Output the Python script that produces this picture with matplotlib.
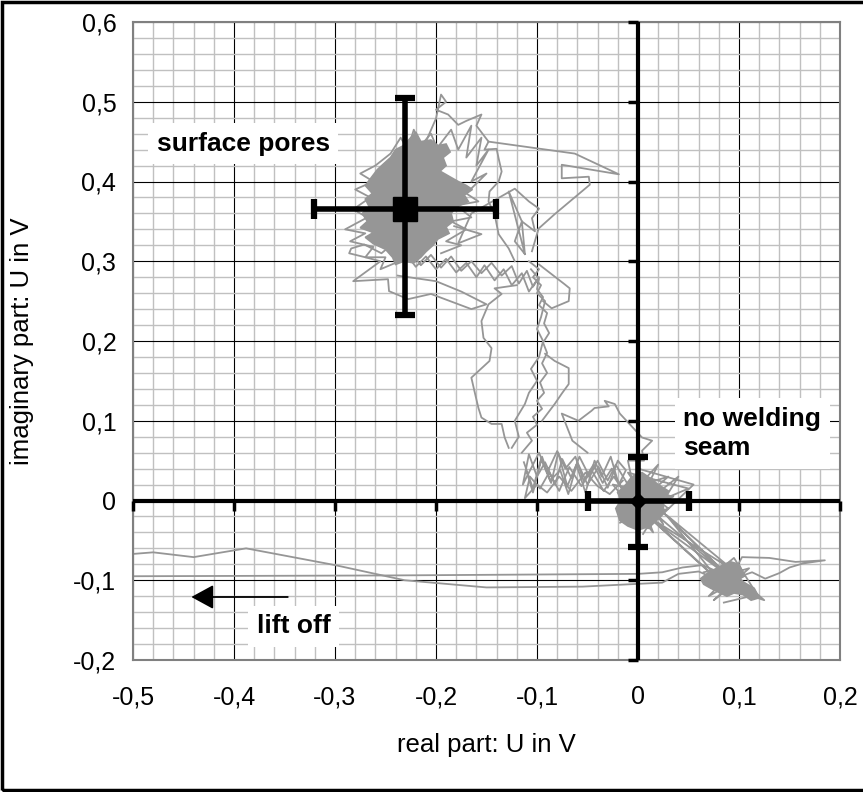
import matplotlib
matplotlib.use("Agg")
import matplotlib.pyplot as plt
from matplotlib.patches import Rectangle

plt.rcParams["font.family"] = ["Liberation Sans", "DejaVu Sans"]

# axis ticks and labels
xticks = [-0.5, -0.4, -0.3, -0.2, -0.1, 0.0, 0.1, 0.2]
xtick_labels = ["-0,5", "-0,4", "-0,3", "-0,2", "-0,1", "0", "0,1", "0,2"]
yticks = [-0.2, -0.1, 0.0, 0.1, 0.2, 0.3, 0.4, 0.5, 0.6]
ytick_labels = ["-0,2", "-0,1", "0", "0,1", "0,2", "0,3", "0,4", "0,5", "0,6"]

# mean points with error bars
pores_xy = (-0.231, 0.365)
pores_xerr = 0.09
pores_yerr = (0.133, 0.14)
seam_xy = (0.0, 0.0)
seam_xerr = 0.05
seam_yerr = (0.058, 0.055)

# dense clusters (envelopes of the signal trace)
pores_blob_x = [-0.225, -0.22, -0.215, -0.205, -0.198, -0.19, -0.186, -0.193, -0.19, -0.196,
                -0.185, -0.178, -0.17, -0.164, -0.172, -0.168, -0.18, -0.185, -0.183, -0.19,
                -0.187, -0.198, -0.203, -0.21, -0.215, -0.222, -0.232, -0.24, -0.243, -0.25,
                -0.262, -0.27, -0.262, -0.275, -0.268, -0.273, -0.266, -0.27, -0.263, -0.27,
                -0.264, -0.258, -0.252, -0.245, -0.24, -0.232]
pores_blob_y = [0.455, 0.462, 0.45, 0.452, 0.445, 0.447, 0.437, 0.43, 0.42, 0.413,
                0.405, 0.4, 0.395, 0.39, 0.383, 0.375, 0.368, 0.36, 0.35, 0.343,
                0.335, 0.328, 0.32, 0.312, 0.305, 0.298, 0.3, 0.296, 0.305, 0.315,
                0.322, 0.33, 0.336, 0.342, 0.35, 0.36, 0.368, 0.378, 0.385, 0.395,
                0.405, 0.415, 0.422, 0.43, 0.44, 0.445]
seam_blob_x = [-0.02, -0.012, -0.006, 0.004, 0.012, 0.02, 0.03, 0.024, 0.026, 0.018,
               0.01, 0.0, -0.01, -0.018, -0.022, -0.017]
seam_blob_y = [0.01, 0.02, 0.03, 0.035, 0.028, 0.02, 0.012, 0.0, -0.015, -0.025,
               -0.033, -0.037, -0.032, -0.025, -0.01, 0.0]
offset_blob_x = [0.062, 0.07, 0.078, 0.085, 0.092, 0.1, 0.104, 0.1, 0.108, 0.115,
                 0.12, 0.112, 0.104, 0.095, 0.088, 0.08, 0.072, 0.065]
offset_blob_y = [-0.098, -0.09, -0.085, -0.08, -0.077, -0.08, -0.09, -0.1, -0.105, -0.11,
                 -0.122, -0.125, -0.118, -0.116, -0.12, -0.115, -0.11, -0.105]

# trace segments
liftoff_upper_x = [-0.51, -0.25, 0.0, 0.024, 0.044, 0.064, 0.08]
liftoff_upper_y = [-0.095, -0.094, -0.092, -0.09, -0.084, -0.081, -0.09]
liftoff_lower_x = [-0.51, -0.48, -0.44, -0.388, -0.30, -0.231, -0.15, -0.055, 0.024, 0.04, 0.06, 0.08]
liftoff_lower_y = [-0.068, -0.065, -0.071, -0.06, -0.081, -0.1, -0.109, -0.108, -0.103, -0.092, -0.089, -0.1]
right_loop_x = [0.095, 0.103, 0.13, 0.156, 0.185, 0.163, 0.15, 0.14, 0.126, 0.113, 0.09]
right_loop_y = [-0.09, -0.071, -0.072, -0.077, -0.075, -0.079, -0.084, -0.091, -0.098, -0.09, -0.1]
jumps_x = [0.02, 0.085, 0.025, 0.09, 0.015, 0.08, 0.028, 0.095, 0.01, 0.075]
jumps_y = [-0.02, -0.09, -0.015, -0.095, -0.025, -0.1, -0.018, -0.088, -0.02, -0.095]
seam_spikes_x = [-0.02, 0.03, -0.015, 0.05, -0.01, 0.025, 0.0, 0.055, 0.01, -0.02, 0.02,
                 -0.01, 0.03, -0.005, 0.015, -0.025, 0.035, -0.018, 0.04, 0.005]
seam_spikes_y = [0.01, 0.03, -0.02, 0.015, 0.035, -0.03, 0.04, 0.02, -0.035, -0.01, 0.045,
                 -0.03, -0.01, 0.025, -0.04, 0.02, 0.005, -0.028, 0.03, -0.042]
offset_spikes_x = [0.065, 0.1, 0.07, 0.105, 0.08, 0.125, 0.09, 0.075, 0.11, 0.068, 0.095, 0.118, 0.085]
offset_spikes_y = [-0.09, -0.08, -0.12, -0.095, -0.075, -0.125, -0.11, -0.125, -0.085, -0.1, -0.072, -0.118, -0.128]
up_branch_x = [-0.005, -0.01, 0.006, 0.004, 0.014, 0.004, -0.018, -0.023, -0.033, -0.029,
               -0.043, -0.046, -0.059, -0.0755, -0.065, -0.05]
up_branch_y = [0.02, 0.05, 0.05, 0.0625, 0.075, 0.079, 0.109, 0.121, 0.125, 0.118,
               0.116, 0.1125, 0.1, 0.109, 0.075, 0.06]
mid_band_x = [-0.01, -0.022, -0.03, -0.04, -0.048, -0.058, -0.066, -0.075, -0.082, -0.092,
              -0.1, -0.108, -0.114, -0.106, -0.098, -0.09, -0.08, -0.072, -0.062, -0.054,
              -0.044, -0.035, -0.026, -0.016, -0.024, -0.034, -0.046, -0.056, -0.068, -0.078,
              -0.088, -0.097, -0.107, -0.112, -0.1, -0.09, -0.078, -0.066, -0.052, -0.04,
              -0.028, -0.015]
mid_band_y = [0.02, 0.045, 0.025, 0.05, 0.03, 0.055, 0.028, 0.052, 0.02, 0.048,
              0.03, 0.058, 0.02, 0.04, 0.06, 0.035, 0.062, 0.04, 0.055, 0.025,
              0.045, 0.022, 0.04, 0.015, 0.03, 0.012, 0.038, 0.018, 0.042, 0.012,
              0.035, 0.015, 0.03, 0.003, 0.02, 0.01, 0.03, 0.012, 0.035, 0.018,
              0.008, 0.025]
mid_band2_x = [-0.113, -0.104, -0.096, -0.086, -0.079, -0.07, -0.061, -0.052, -0.043, -0.036,
               -0.027, -0.019, -0.012, -0.02, -0.03, -0.039, -0.05, -0.06, -0.069, -0.077,
               -0.087, -0.095, -0.104, -0.11]
mid_band2_y = [0.048, 0.015, 0.052, 0.022, 0.06, 0.018, 0.045, 0.01, 0.05, 0.03,
               0.055, 0.02, 0.038, 0.05, 0.016, 0.042, 0.02, 0.048, 0.008, 0.038,
               0.025, 0.055, 0.01, 0.035]
spine1_x = [-0.115, -0.105, -0.11, -0.1, -0.104, -0.095, -0.1, -0.093, -0.097, -0.09, -0.095,
            -0.09, -0.094, -0.088, -0.093, -0.09, -0.098, -0.094, -0.1, -0.098, -0.106]
spine1_y = [0.06, 0.075, 0.085, 0.095, 0.105, 0.115, 0.125, 0.135, 0.148, 0.16, 0.172,
            0.185, 0.198, 0.21, 0.222, 0.235, 0.245, 0.255, 0.265, 0.278, 0.29]
spine2_x = [-0.125, -0.118, -0.122, -0.112, -0.108, -0.1, -0.106, -0.098, -0.094, -0.1,
            -0.096, -0.092, -0.1, -0.096, -0.104, -0.098, -0.108]
spine2_y = [0.066, 0.08, 0.1, 0.121, 0.135, 0.15, 0.165, 0.18, 0.2, 0.215,
            0.23, 0.25, 0.26, 0.27, 0.28, 0.29, 0.3]
left_loop_x = [-0.128, -0.132, -0.135, -0.145, -0.155, -0.158, -0.162, -0.165, -0.147, -0.145,
               -0.153, -0.155, -0.148, -0.135, -0.142, -0.12]
left_loop_y = [0.066, 0.079, 0.096, 0.096, 0.104, 0.116, 0.1375, 0.154, 0.175, 0.191,
               0.204, 0.225, 0.246, 0.259, 0.266, 0.27]
right_low_x = [-0.095, -0.0825, -0.0755, -0.0686, -0.0686, -0.0825, -0.092]
right_low_y = [0.1, 0.121, 0.134, 0.146, 0.166, 0.175, 0.184]
right_high_x = [-0.098, -0.0725, -0.0676, -0.0686, -0.0855, -0.094]
right_high_y = [0.296, 0.271, 0.266, 0.25, 0.241, 0.25]
band_x = [-0.235, -0.225, -0.215, -0.205, -0.195, -0.185, -0.175, -0.165, -0.155, -0.145,
          -0.135, -0.125, -0.118, -0.11, -0.104, -0.098, -0.108, -0.115, -0.125, -0.133,
          -0.142, -0.152, -0.16, -0.17, -0.18, -0.19, -0.2, -0.21, -0.22, -0.23]
band_y = [0.3, 0.312, 0.295, 0.308, 0.292, 0.306, 0.288, 0.3, 0.285, 0.298,
          0.282, 0.294, 0.272, 0.288, 0.268, 0.28, 0.262, 0.285, 0.27, 0.29,
          0.276, 0.295, 0.28, 0.298, 0.286, 0.303, 0.29, 0.306, 0.293, 0.31]
tail_x = [-0.235, -0.254, -0.271, -0.284, -0.286, -0.27, -0.255, -0.282, -0.2475, -0.2465,
          -0.2276, -0.205, -0.165, -0.15, -0.175, -0.2, -0.238]
tail_y = [0.33, 0.31, 0.321, 0.316, 0.31, 0.305, 0.3, 0.275, 0.2775, 0.2625,
          0.2525, 0.259, 0.24, 0.246, 0.262, 0.275, 0.282]
upper_x = [-0.21, -0.2, -0.195, -0.19, -0.2, -0.188, -0.178, -0.17, -0.155, -0.16, -0.148,
           -0.152, -0.14, -0.138, -0.135, -0.138, -0.147, -0.148, -0.142, -0.138, -0.128, -0.122]
upper_y = [0.45, 0.479, 0.509, 0.5, 0.49, 0.484, 0.471, 0.476, 0.484, 0.47, 0.45,
           0.44, 0.441, 0.429, 0.4125, 0.4, 0.3875, 0.375, 0.359, 0.334, 0.316, 0.3]
loop_x = [-0.148, -0.0626, -0.0189, -0.0755, -0.0755, -0.0487, -0.0477, -0.0825, -0.0984, -0.105]
loop_y = [0.45, 0.435, 0.409, 0.421, 0.404, 0.406, 0.396, 0.359, 0.341, 0.3125]
web_x = [-0.182, -0.155, -0.178, -0.165, -0.122, -0.108, -0.098, -0.105, -0.102, -0.115,
         -0.112, -0.128, -0.115, -0.122, -0.112]
web_y = [0.344, 0.334, 0.3225, 0.36, 0.391, 0.375, 0.366, 0.354, 0.3375, 0.35,
         0.309, 0.3875, 0.35, 0.325, 0.309]
pores_web_x = [-0.2, -0.185, -0.178, -0.165, -0.17, -0.155, -0.16, -0.148, -0.165, -0.15,
               -0.17, -0.158, -0.18, -0.165, -0.185, -0.17, -0.19, -0.175, -0.195]
pores_web_y = [0.44, 0.465, 0.44, 0.47, 0.43, 0.455, 0.42, 0.44, 0.4, 0.41,
               0.385, 0.375, 0.37, 0.355, 0.35, 0.34, 0.325, 0.32, 0.31]
pores_fuzz_x = [-0.2, -0.205, -0.215, -0.222, -0.228, -0.235, -0.245, -0.26, -0.275, -0.262,
                -0.28, -0.265, -0.282, -0.268, -0.29, -0.27, -0.285, -0.262, -0.27, -0.25,
                -0.255, -0.24]
pores_fuzz_y = [0.445, 0.46, 0.445, 0.465, 0.44, 0.455, 0.435, 0.42, 0.41, 0.4,
                0.39, 0.38, 0.365, 0.355, 0.34, 0.335, 0.325, 0.318, 0.305, 0.305,
                0.29, 0.298]

segments = [
    (liftoff_upper_x, liftoff_upper_y), (liftoff_lower_x, liftoff_lower_y),
    (right_loop_x, right_loop_y), (jumps_x, jumps_y),
    (seam_spikes_x, seam_spikes_y), (offset_spikes_x, offset_spikes_y),
    (up_branch_x, up_branch_y), (mid_band_x, mid_band_y), (mid_band2_x, mid_band2_y),
    (spine1_x, spine1_y), (spine2_x, spine2_y), (left_loop_x, left_loop_y),
    (right_low_x, right_low_y), (right_high_x, right_high_y),
    (band_x, band_y), (tail_x, tail_y), (upper_x, upper_y),
    (loop_x, loop_y), (web_x, web_y), (pores_web_x, pores_web_y),
    (pores_fuzz_x, pores_fuzz_y),
]
blobs = [
    (pores_blob_x, pores_blob_y), (seam_blob_x, seam_blob_y),
    (offset_blob_x, offset_blob_y),
]

trace_color = "#969696"

fig = plt.figure(figsize=(8.63, 7.92), dpi=100)
ax = fig.add_axes([133 / 863, 132 / 792, 707 / 863, 638 / 792])

ax.set_xlim(-0.5, 0.2)
ax.set_ylim(-0.2, 0.6)

ax.set_xticks(xticks)
ax.set_xticklabels(xtick_labels)
ax.set_yticks(yticks)
ax.set_yticklabels(ytick_labels)
ax.set_xticks([-0.5 + 0.02 * i for i in range(36)], minor=True)
ax.set_yticks([-0.2 + 0.02 * i for i in range(41)], minor=True)
ax.tick_params(which="both", length=0)
ax.tick_params(axis="x", labelsize=18, pad=18)
ax.tick_params(axis="y", labelsize=18, pad=12)

ax.set_axisbelow(True)
ax.grid(which="minor", color="#c0c0c0", linewidth=1.0)
ax.grid(which="major", color="black", linewidth=0.8)
for sp in ax.spines.values():
    sp.set_color("#808080")
    sp.set_linewidth(1.5)

# signal trace
for sx, sy in blobs:
    ax.fill(sx, sy, color=trace_color, linewidth=1.2, zorder=2)
for sx, sy in segments:
    ax.plot(sx, sy, color=trace_color, linewidth=1.3, zorder=2)

# thick axes through origin with tick marks
ax.axhline(0, color="black", linewidth=3, zorder=3)
ax.axvline(0, color="black", linewidth=3, zorder=3)
ax.plot(xticks, [0] * len(xticks), linestyle="none", marker=3, markersize=7,
        markeredgewidth=2.5, color="black", zorder=3, clip_on=False)
ax.plot([0] * len(yticks), yticks, linestyle="none", marker=0, markersize=7,
        markeredgewidth=2.5, color="black", zorder=3, clip_on=False)

# mean values with scatter
ax.errorbar(pores_xy[0], pores_xy[1], xerr=pores_xerr,
            yerr=[[pores_yerr[0]], [pores_yerr[1]]], fmt="s", markersize=17,
            color="black", elinewidth=4, capsize=7, capthick=4.5, zorder=5)
ax.errorbar(seam_xy[0], seam_xy[1], xerr=seam_xerr,
            yerr=[[seam_yerr[0]], [seam_yerr[1]]], fmt="D", markersize=8,
            color="black", elinewidth=4, capsize=7, capthick=4.5, zorder=5)

box = dict(facecolor="white", edgecolor="none", pad=6)
ax.text(-0.3907, 0.4475, "surface pores", fontsize=19, fontweight="bold",
        ha="center", va="center", bbox=box, zorder=6)
ax.text(0.045, 0.084, "no welding\nseam", fontsize=19, fontweight="bold",
        ha="left", va="center", linespacing=1.3, bbox=box, zorder=6)
ax.text(-0.341, -0.1575, "lift off", fontsize=19, fontweight="bold",
        ha="center", va="center", bbox=box, zorder=6)
ax.annotate("", xy=(-0.445, -0.121), xytext=(-0.344, -0.121),
            arrowprops=dict(arrowstyle="-|>,head_length=0.55,head_width=0.3",
                            color="black", lw=1.3, mutation_scale=25),
            zorder=6)

ax.set_xlabel("real part: U in V", fontsize=18.5)
ax.set_ylabel("imaginary part: U in V", fontsize=18.5)
ax.xaxis.set_label_coords(0.5, -0.133)
ax.xaxis.label.set_verticalalignment("center")
ax.yaxis.set_label_coords(-0.157, 0.5)
ax.yaxis.label.set_verticalalignment("center")

fig.add_artist(Rectangle((0.002, 0.002), 1.1, 0.996, transform=fig.transFigure,
                         fill=False, edgecolor="black", linewidth=2.5))

fig.savefig("out.png", dpi=100)
